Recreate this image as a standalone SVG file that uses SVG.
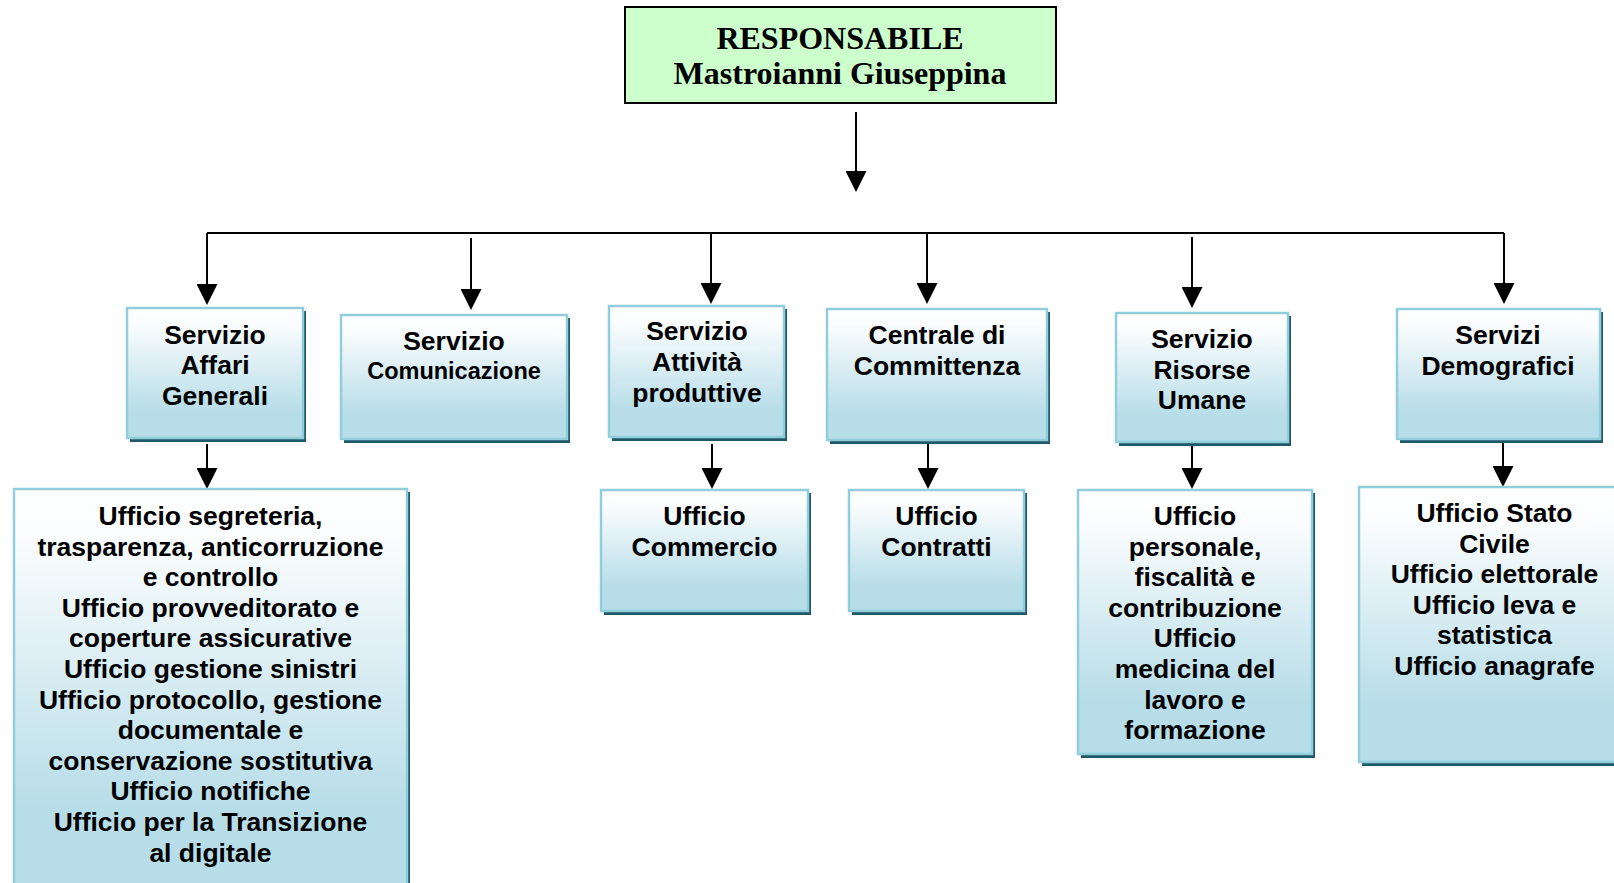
<svg xmlns="http://www.w3.org/2000/svg" width="1614" height="883" viewBox="0 0 1614 883">
  <style>
    .head { fill: #ccffcc; stroke: #000000; stroke-width: 2; }
    .head-text { font-family: "Liberation Serif", "Times New Roman", serif; font-weight: bold; font-size: 32px; fill: #000000; text-anchor: middle; }
    .box { fill: url(#boxFill); stroke: #92cddc; stroke-width: 2.5; }
    .shadow { fill: #215968; }
    .label { font-family: "Liberation Sans", Arial, sans-serif; font-weight: bold; font-size: 26.5px; fill: #000000; text-anchor: middle; }
    .small { font-size: 23.5px; }
    .link { fill: none; stroke: #000000; stroke-width: 2; }
    .arrow { marker-end: url(#head); }
  </style>
  <defs>
    <linearGradient id="boxFill" x1="0" y1="0" x2="0" y2="1">
      <stop offset="0" stop-color="#ffffff"/>
      <stop offset="0.12" stop-color="#fbfdfe"/>
      <stop offset="0.8" stop-color="#b7dde8"/>
      <stop offset="1" stop-color="#b6dde8"/>
    </linearGradient>
    <marker id="head" viewBox="0 0 21 21" markerWidth="21" markerHeight="21" markerUnits="userSpaceOnUse" refX="17" refY="10.5" orient="auto">
      <path d="M0,0 L21,10.5 L0,21 Z" fill="#000000"/>
    </marker>
  </defs>

  <!-- connectors -->
  <g id="connectors">
    <line class="link arrow" x1="856" y1="112" x2="856" y2="188"/>
    <line class="link" x1="207" y1="233" x2="1504" y2="233"/>
    <line class="link arrow" x1="207" y1="233" x2="207" y2="301"/>
    <line class="link arrow" x1="471" y1="238" x2="471" y2="306"/>
    <line class="link arrow" x1="711" y1="233" x2="711" y2="300"/>
    <line class="link arrow" x1="927" y1="233" x2="927" y2="300"/>
    <line class="link arrow" x1="1192" y1="237" x2="1192" y2="304"/>
    <line class="link arrow" x1="1504" y1="233" x2="1504" y2="300"/>
    <line class="link arrow" x1="207" y1="444" x2="207" y2="485"/>
    <line class="link arrow" x1="712" y1="444" x2="712" y2="485"/>
    <line class="link arrow" x1="928" y1="443" x2="928" y2="485"/>
    <line class="link arrow" x1="1192" y1="443" x2="1192" y2="485"/>
    <line class="link arrow" x1="1503" y1="441" x2="1503" y2="483"/>
  </g>

  <!-- head of the structure -->
  <g id="responsabile">
    <rect class="head" x="625" y="7" width="431" height="96"/>
    <text class="head-text" x="840" y="49">RESPONSABILE</text>
    <text class="head-text" x="840" y="84">Mastroianni Giuseppina</text>
  </g>

  <!-- services -->
  <g id="affari-generali">
    <rect class="shadow" x="130" y="311" width="176" height="131"/>
    <rect class="box" x="127" y="308" width="176" height="130"/>
    <text class="label"><tspan x="215" y="343.5">Servizio</tspan><tspan x="215" y="374">Affari</tspan><tspan x="215" y="404.5">Generali</tspan></text>
  </g>

  <g id="comunicazione">
    <rect class="shadow" x="344" y="318" width="226" height="125"/>
    <rect class="box" x="341" y="315" width="226" height="124"/>
    <text class="label"><tspan x="454" y="350">Servizio</tspan><tspan class="small" x="454" y="379">Comunicazione</tspan></text>
  </g>

  <g id="attivita-produttive">
    <rect class="shadow" x="612" y="309" width="175" height="132"/>
    <rect class="box" x="609" y="306" width="175" height="131"/>
    <text class="label"><tspan x="697" y="340">Servizio</tspan><tspan x="697" y="371">Attività</tspan><tspan x="697" y="402">produttive</tspan></text>
  </g>

  <g id="centrale-committenza">
    <rect class="shadow" x="830" y="312" width="220" height="132"/>
    <rect class="box" x="827" y="309" width="220" height="131"/>
    <text class="label"><tspan x="937" y="344">Centrale di</tspan><tspan x="937" y="375">Committenza</tspan></text>
  </g>

  <g id="risorse-umane">
    <rect class="shadow" x="1119" y="316" width="172" height="130"/>
    <rect class="box" x="1116" y="313" width="172" height="129"/>
    <text class="label"><tspan x="1202" y="348">Servizio</tspan><tspan x="1202" y="378.5">Risorse</tspan><tspan x="1202" y="409">Umane</tspan></text>
  </g>

  <g id="demografici">
    <rect class="shadow" x="1400" y="312" width="203" height="131"/>
    <rect class="box" x="1397" y="309" width="203" height="130"/>
    <text class="label"><tspan x="1498" y="344">Servizi</tspan><tspan x="1498" y="375">Demografici</tspan></text>
  </g>

  <!-- offices -->
  <g id="uffici-affari-generali">
    <rect class="shadow" x="17" y="492" width="393" height="400"/>
    <rect class="box" x="14" y="489" width="393" height="400"/>
    <text class="label"><tspan x="210.5" y="525">Ufficio segreteria,</tspan><tspan x="210.5" y="555.6">trasparenza, anticorruzione</tspan><tspan x="210.5" y="586.2">e controllo</tspan><tspan x="210.5" y="616.8">Ufficio provveditorato e</tspan><tspan x="210.5" y="647.4">coperture assicurative</tspan><tspan x="210.5" y="678">Ufficio gestione sinistri</tspan><tspan x="210.5" y="708.6">Ufficio protocollo, gestione</tspan><tspan x="210.5" y="739.2">documentale e</tspan><tspan x="210.5" y="769.8">conservazione sostitutiva</tspan><tspan x="210.5" y="800.4">Ufficio notifiche</tspan><tspan x="210.5" y="831">Ufficio per la Transizione</tspan><tspan x="210.5" y="861.6">al digitale</tspan></text>
  </g>

  <g id="ufficio-commercio">
    <rect class="shadow" x="604" y="493" width="207" height="122"/>
    <rect class="box" x="601" y="490" width="207" height="121"/>
    <text class="label"><tspan x="704.5" y="525">Ufficio</tspan><tspan x="704.5" y="556">Commercio</tspan></text>
  </g>

  <g id="ufficio-contratti">
    <rect class="shadow" x="852" y="493" width="175" height="122"/>
    <rect class="box" x="849" y="490" width="175" height="121"/>
    <text class="label"><tspan x="936.5" y="525">Ufficio</tspan><tspan x="936.5" y="556">Contratti</tspan></text>
  </g>

  <g id="uffici-risorse-umane">
    <rect class="shadow" x="1081" y="493" width="234" height="265"/>
    <rect class="box" x="1078" y="490" width="234" height="264"/>
    <text class="label"><tspan x="1195" y="525">Ufficio</tspan><tspan x="1195" y="555.6">personale,</tspan><tspan x="1195" y="586.2">fiscalità e</tspan><tspan x="1195" y="616.8">contribuzione</tspan><tspan x="1195" y="647.4">Ufficio</tspan><tspan x="1195" y="678">medicina del</tspan><tspan x="1195" y="708.6">lavoro e</tspan><tspan x="1195" y="739.2">formazione</tspan></text>
  </g>

  <g id="uffici-demografici">
    <rect class="shadow" x="1362" y="490" width="272" height="276"/>
    <rect class="box" x="1359" y="487" width="272" height="275"/>
    <text class="label"><tspan x="1494.5" y="522">Ufficio Stato</tspan><tspan x="1494.5" y="552.6">Civile</tspan><tspan x="1494.5" y="583.2">Ufficio elettorale</tspan><tspan x="1494.5" y="613.8">Ufficio leva e</tspan><tspan x="1494.5" y="644.4">statistica</tspan><tspan x="1494.5" y="675">Ufficio anagrafe</tspan></text>
  </g>
</svg>
